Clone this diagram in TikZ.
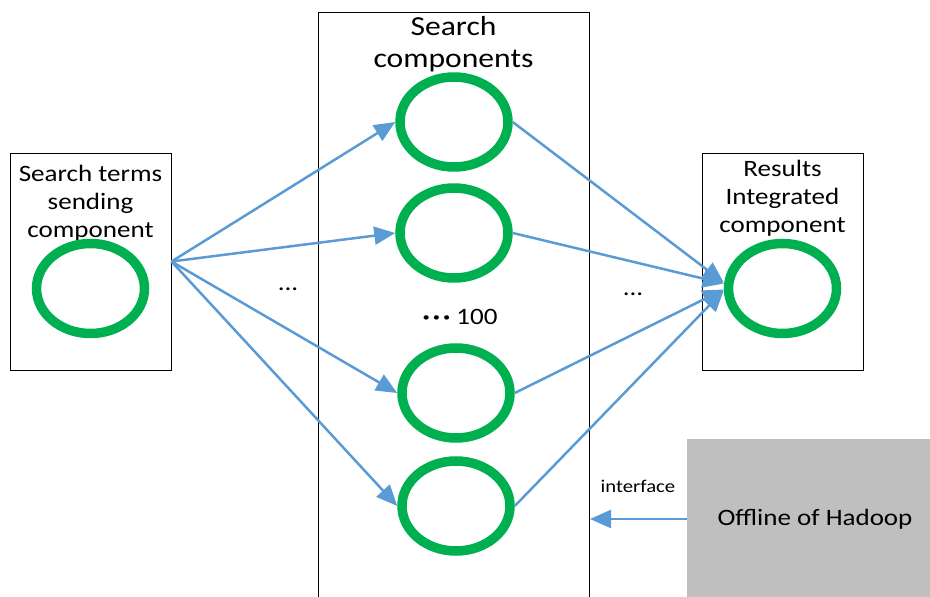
\documentclass[tikz,border=0pt]{standalone}
\usepackage{fontspec}
\setmainfont{Carlito}[FakeStretch=1.15]
\usetikzlibrary{arrows.meta,shapes.geometric}
\definecolor{compgreen}{HTML}{00B050}
\definecolor{linkblue}{HTML}{5B9BD5}
\definecolor{hadoopgray}{HTML}{BFBFBF}

\begin{document}
\begin{tikzpicture}[x=1pt,y=-1pt,
    comp/.style={ellipse, draw=compgreen, line width=9.5pt, minimum width=108pt, minimum height=90pt, inner sep=0pt},
    link/.style={draw=linkblue, line width=2.5pt, -{Triangle[length=21pt,width=18pt]}},
    frame/.style={draw, line width=1pt, inner sep=0pt},
    lbl/.style={font=\fontsize{23.5}{28}\selectfont, align=center}]
        \useasboundingbox (0,0) rectangle (930,597);

        % boxes
        \node[frame, minimum width=161pt, minimum height=217pt] (sendbox) at (90.5,261.5) {};
        \node[frame, minimum width=271pt, minimum height=600pt, anchor=north west] (searchbox) at (318,12) {};
        \node[frame, minimum width=161pt, minimum height=217pt] (resultbox) at (782.5,261.5) {};
        \node[fill=hadoopgray, minimum width=250pt, minimum height=170pt, anchor=north west] (hadoop) at (687,439) {};

        % labels
        \node[lbl] (sendlbl) at (90.5,203) {Search terms\\sending\\component};
        \node[font=\fontsize{27.5}{32}\selectfont, align=center] (searchlbl) at (453.5,44) {Search\\components};
        \node[lbl] (resultlbl) at (782.5,198) {Results\\Integrated\\component};
        \node[lbl] (hadooplbl) at (815,519) {Offline of Hadoop};
        \node[font=\fontsize{18}{20}\selectfont] (ifclbl) at (638,486) {interface};

        % components
        \node[comp] (send) at (90.5,288.5) {};
        \node[comp] (c1) at (454,122) {};
        \node[comp] (c2) at (454,233) {};
        \node[comp] (c3) at (456,393) {};
        \node[comp] (c4) at (456,506) {};
        \node[comp] (result) at (782.5,288.5) {};

        \node[lbl, anchor=base] (dotsl) at (288,290) {...};
        \node[lbl, anchor=base] (dotsr) at (633,295) {...};
        \node[lbl] (hundred) at (460,317) {\textbf{·\kern3pt·\kern3pt·} 100};

        % connectors
        \foreach \c in {c1,c2,c3,c4}
            \draw[link] (sendbox.east) -- (\c.west);
        \foreach \c/\dy in {c1/6,c2/5,c3/-1,c4/-2}
            \draw[link] (\c.east) -- ([yshift=\dy pt]result.west);

        \coordinate (hadoopin) at (hadoop.west |- hadooplbl);
        \draw[link] (hadoopin) -- (hadoopin -| searchbox.east);
    \end{tikzpicture}
\end{document}
